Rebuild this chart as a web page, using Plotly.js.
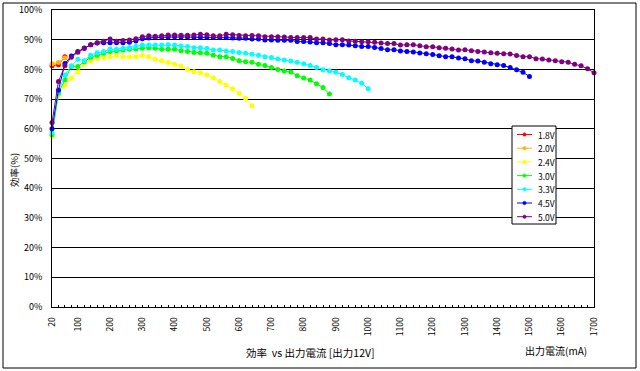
<!DOCTYPE html>
<html>
<head>
<meta charset="utf-8">
<script src="https://cdn.plot.ly/plotly-3.0.1.min.js"></script>
<style>html,body{margin:0;padding:0;background:#fff;}#chart{width:640px;height:371px;}</style>
</head>
<body>
<div id="chart"></div>
<script>
// Output current (mA)
const current = [20,40,60,80,100,120,140,160,180,200,220,240,260,280,300,320,340,360,380,400,
  420,440,460,480,500,520,540,560,580,600,620,640,660,680,700,720,740,760,780,800,
  820,840,860,880,900,920,940,960,980,1000,1020,1040,1060,1080,1100,1120,1140,1160,1180,1200,
  1220,1240,1260,1280,1300,1320,1340,1360,1380,1400,1420,1440,1460,1480,1500,1520,1540,1560,1580,1600,
  1620,1640,1660,1680,1700];

// Efficiency (%) per input voltage
const eff18 = [81.2, 81.6, 84.3];
const eff20 = [81.9, 82.3, 83.8];
const eff24 = [57.5, 71.4, 74.7, 77.0, 79.2, 81.8, 82.9, 83.7, 84.0, 84.3, 84.6, 84.3,
  84.3, 84.3, 84.7, 84.3, 83.4, 82.9, 82.3, 81.7, 81.1, 80.0, 79.2, 78.9, 78.1, 77.2,
  75.9, 74.7, 73.4, 71.9, 70.3, 67.8];
const eff30 = [58.0, 72.0, 76.5, 81.0, 81.0, 82.6, 84.1, 84.8, 85.4, 86.0, 86.3, 86.5,
  86.8, 86.9, 87.1, 87.3, 87.1, 86.8, 86.8, 86.8, 86.3, 86.0, 85.7, 85.6, 85.4, 84.8,
  84.3, 84.3, 83.7, 82.9, 82.6, 82.4, 81.7, 81.3, 80.6, 80.0, 79.5, 79.1, 77.9, 77.1,
  76.4, 75.2, 73.9, 71.7];
const eff33 = [58.7, 72.5, 78.1, 81.2, 83.4, 82.9, 84.8, 85.6, 86.0, 86.8, 86.8, 87.1,
  87.3, 87.7, 88.2, 88.2, 88.2, 88.2, 88.3, 88.2, 87.9, 87.7, 87.3, 87.3, 87.0, 86.5,
  86.5, 86.2, 86.0, 85.7, 85.4, 85.1, 84.8, 84.3, 84.0, 83.5, 83.2, 82.8, 82.4, 81.9,
  81.3, 80.6, 79.9, 79.5, 79.0, 78.3, 77.2, 76.4, 75.3, 73.5];
const eff45 = [60.0, 73.0, 82.0, 84.5, 86.0, 87.2, 88.3, 88.9, 89.0, 89.0, 89.0, 89.0,
  89.1, 89.6, 90.3, 90.6, 90.8, 90.8, 90.9, 91.0, 90.9, 90.9,
  90.8, 90.8, 90.8, 90.7, 90.7, 90.7, 90.6, 90.5, 90.5, 90.2, 90.2, 89.9, 89.9, 89.8,
  89.8, 89.8, 89.4, 89.4, 89.2, 89.0, 89.0, 88.7, 88.3, 88.3, 88.2, 88.0, 87.7, 87.7, 87.4,
  87.0, 86.6, 86.6, 86.2, 86.0, 85.9, 85.5, 85.3, 85.0, 84.6, 84.3, 84.3, 83.8, 83.6,
  82.9, 82.8, 82.4, 81.9, 81.6, 81.3, 80.6, 79.9, 79.0, 77.6];
const eff50 = [62.1, 75.9, 81.2, 84.1, 85.8, 87.0, 88.3, 89.0, 89.5, 90.2, 89.5, 89.7,
  89.9, 90.3, 91.0, 91.3, 91.2, 91.3, 91.6, 91.6, 91.5, 91.5,
  91.6, 91.8, 91.7, 91.3, 91.3, 91.8, 91.7, 91.4, 91.3, 91.4, 91.3, 91.0, 91.0, 91.0,
  90.9, 90.7, 90.7, 90.7, 90.7, 90.2, 90.2, 89.9, 90.0, 90.0, 89.6, 89.5, 89.3, 89.3, 89.1,
  88.9, 88.7, 88.7, 88.2, 88.3, 88.3, 88.0, 87.6, 87.6, 87.3, 87.1, 86.9, 86.5, 86.6,
  86.3, 86.0, 85.9, 85.6, 85.4, 85.3, 85.2, 84.7, 84.3, 84.3, 83.6, 83.5, 83.2, 82.9,
  82.6, 82.4, 81.7, 81.2, 80.2, 78.9];

const seriesNames = ['1.8V', '2.0V', '2.4V', '3.0V', '3.3V', '4.5V', '5.0V'];
const seriesValues = [eff18, eff20, eff24, eff30, eff33, eff45, eff50];
const seriesColors = ['#FF0000', '#FFB400', '#FFFF00', '#00FF00', '#00FFFF', '#0000FF', '#800080'];

const xTickLabels = [20, 100, 200, 300, 400, 500, 600, 700, 800, 900, 1000, 1100, 1200, 1300, 1400, 1500, 1600, 1700];

const FONT = '"Noto Sans CJK JP", "Liberation Sans", sans-serif';

const traces = seriesValues.map((vals, i) => ({
  type: 'scatter',
  mode: 'lines+markers',
  name: seriesNames[i],
  x: current.slice(0, vals.length),
  y: vals,
  cliponaxis: false,
  line: {color: seriesColors[i], width: 1},
  marker: {color: seriesColors[i], size: 5, symbol: 'circle'},
  showlegend: false
}));

// plot area in pixels: left 52, right 594, top 10, bottom 307
const L = 52, R = 594, T = 10, B = 307;
const px = v => (v - L) / (R - L);
const py = v => (B - v) / (B - T);

const shapes = [
  // chart outer border
  {type: 'rect', xref: 'paper', yref: 'paper', x0: px(3), x1: px(636), y0: py(368), y1: py(3),
   line: {color: '#000', width: 1}, fillcolor: 'rgba(0,0,0,0)', layer: 'above'},
  // legend box
  {type: 'rect', xref: 'paper', yref: 'paper', x0: px(512), x1: px(556), y0: py(224), y1: py(126),
   line: {color: '#000', width: 1}, fillcolor: '#fff', layer: 'above'}
];
const annotations = [];
seriesNames.forEach((n, i) => {
  const yy = 134.5 + i * 13.7;
  shapes.push({type: 'line', xref: 'paper', yref: 'paper', x0: px(517), x1: px(532), y0: py(yy), y1: py(yy),
    line: {color: seriesColors[i], width: 1}, layer: 'above'});
  shapes.push({type: 'circle', xref: 'paper', yref: 'paper', x0: px(522.8), x1: px(526.2), y0: py(yy + 1.7), y1: py(yy - 1.7),
    line: {color: seriesColors[i], width: 0.5}, fillcolor: seriesColors[i], layer: 'above'});
  annotations.push({xref: 'paper', yref: 'paper', x: px(536), y: py(yy), xanchor: 'left', yanchor: 'middle',
    text: n, showarrow: false, font: {family: FONT, size: 8.5, color: '#000'}});
});

annotations.push({xref: 'paper', yref: 'paper', x: px(310), y: py(352), xanchor: 'center', yanchor: 'middle',
  text: '効率  vs 出力電流 [出力12V]', showarrow: false, font: {family: FONT, size: 10.5, color: '#000'}});
annotations.push({xref: 'paper', yref: 'paper', x: px(556), y: py(350), xanchor: 'center', yanchor: 'middle',
  text: '出力電流(mA)', showarrow: false, font: {family: FONT, size: 10, color: '#000'}});
annotations.push({xref: 'paper', yref: 'paper', x: px(14), y: py(170), xanchor: 'center', yanchor: 'middle',
  text: '効率(%)', textangle: -90, showarrow: false, font: {family: FONT, size: 9.5, color: '#000'}});

const layout = {
  width: 640, height: 371,
  margin: {l: L, r: 640 - R, t: T, b: 371 - B, pad: 0},
  paper_bgcolor: '#fff', plot_bgcolor: '#fff',
  font: {family: FONT, size: 8, color: '#000'},
  showlegend: false,
  xaxis: {
    range: [20, 1700], showgrid: false, zeroline: false,
    showline: true, linecolor: '#000', linewidth: 1, mirror: true,
    tickmode: 'array', tickvals: xTickLabels, ticktext: xTickLabels.map(String),
    tickangle: -90, ticks: 'inside', ticklen: 2, tickcolor: '#000', tickwidth: 1,
    ticklabelstandoff: 6,
    minor: {dtick: 20, tick0: 20, ticks: 'inside', ticklen: 2, tickcolor: '#000', tickwidth: 1, showgrid: false},
    tickfont: {family: FONT, size: 8.5, color: '#000'}
  },
  yaxis: {
    range: [0, 100], dtick: 10, tick0: 0, ticksuffix: '%',
    showgrid: true, gridcolor: '#000', gridwidth: 1, zeroline: false,
    showline: true, linecolor: '#000', linewidth: 1, mirror: true,
    ticks: '', ticklabelstandoff: 7,
    tickfont: {family: FONT, size: 9, color: '#000'}
  },
  shapes: shapes,
  annotations: annotations
};

Plotly.newPlot('chart', traces, layout, {staticPlot: true, displayModeBar: false});
</script>
</body>
</html>
